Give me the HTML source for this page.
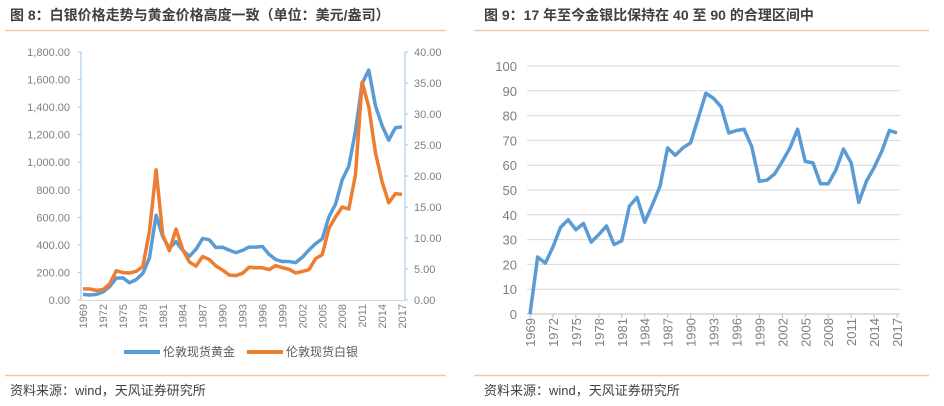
<!DOCTYPE html>
<html><head><meta charset="utf-8">
<style>
body{margin:0;background:#fff;width:944px;height:406px;overflow:hidden;font-family:"Liberation Sans","Noto Sans CJK SC",sans-serif;}
svg{position:absolute;left:0;top:0}
</style></head>
<body>
<svg id="c" width="944" height="406" xmlns="http://www.w3.org/2000/svg">
<text x="10" y="20" font-size="14" font-weight="bold" fill="#404040" font-family="Liberation Sans, Noto Sans CJK SC, sans-serif">图 8：白银价格走势与黄金价格高度一致（单位：美元/盎司）</text>
<text x="484" y="20" font-size="14" font-weight="bold" fill="#404040" font-family="Liberation Sans, Noto Sans CJK SC, sans-serif">图 9：17 年至今金银比保持在 40 至 90 的合理区间中</text>
<line x1="5" y1="30.5" x2="446" y2="30.5" stroke="#f0c8a6" stroke-width="1.5"/>
<line x1="474" y1="30.5" x2="929" y2="30.5" stroke="#f0c8a6" stroke-width="1.5"/>
<line x1="5" y1="375.5" x2="446" y2="375.5" stroke="#f0c8a6" stroke-width="1.5"/>
<line x1="474" y1="375.5" x2="929" y2="375.5" stroke="#f0c8a6" stroke-width="1.5"/>
<text x="10" y="395" font-size="13" fill="#404040">资料来源：wind，天风证券研究所</text>
<text x="484" y="395" font-size="13" fill="#404040">资料来源：wind，天风证券研究所</text>
<g id="L"></g>
<g id="R"></g>
</svg>
<script>
const years=[];for(let y=1969;y<=2017;y++)years.push(y);
const goldPrices=[41,36,41,58,97,159,161,125,148,193,306,615,460,376,424,361,317,368,447,437,381,383,362,344,360,384,384,388,331,294,279,279,271,310,363,409,444,603,695,872,972,1225,1572,1669,1411,1266,1160,1250,1257];
const silverPrices=[1.79,1.77,1.55,1.68,2.56,4.71,4.42,4.35,4.62,5.40,11.09,20.98,10.49,7.95,11.44,8.14,6.14,5.47,7.01,6.53,5.50,4.82,4.04,3.94,4.30,5.29,5.20,5.20,4.90,5.54,5.22,4.95,4.37,4.60,4.88,6.67,7.32,11.55,13.38,15.0,14.67,20.19,35.12,31.15,23.79,19.08,15.68,17.14,17.05];
const ratioValues=[0,23,20.5,27,35,38,34,36.5,29,32,35.5,28,29.5,43.5,47,37,44,51.5,67,64,67,69,79,89,87,83.5,73,74,74.5,67.5,53.5,54,56.5,61.5,67,74.5,61.5,61,52.5,52.5,58,66.5,61,45,53.5,59,65.5,74,73];
const leftTicks=[0,200,400,600,800,1000,1200,1400,1600,1800];
const rightTicks=[0,5,10,15,20,25,30,35,40];
const ratioTicks=[0,10,20,30,40,50,60,70,80,90,100];
const NS='http://www.w3.org/2000/svg';
function mk(p,t,a){const e=document.createElementNS(NS,t);for(const k in a)e.setAttribute(k,a[k]);p.appendChild(e);return e;}
const fmt=v=>v.toLocaleString('en-US',{minimumFractionDigits:2,maximumFractionDigits:2});
const L=document.getElementById('L');
const lx=y=>83+(y-1969)*(402-83)/48;
const ly=v=>300-v*(300-52)/1800;
const ry=v=>300-v*(300-52)/40;
let e=mk(L,'line',{x1:81,y1:52,x2:81,y2:300,stroke:'#9dc3e6','stroke-width':1});

e=mk(L,'line',{x1:405,y1:52,x2:405,y2:300,stroke:'#9dc3e6','stroke-width':1});

e=mk(L,'line',{x1:81,y1:300.5,x2:405,y2:300.5,stroke:'#d9d9d9','stroke-width':1});

leftTicks.forEach(v=>{const t=mk(L,'text',{x:70,y:ly(v)+4,'font-size':11,fill:'#7f7f7f','text-anchor':'end'});t.textContent=fmt(v);

mk(L,'line',{x1:78,y1:ly(v),x2:81,y2:ly(v),stroke:'#9dc3e6'});});
rightTicks.forEach(v=>{const t=mk(L,'text',{x:414,y:ry(v)+4,'font-size':11,fill:'#7f7f7f'});t.textContent=fmt(v);

mk(L,'line',{x1:405,y1:ry(v),x2:408,y2:ry(v),stroke:'#9dc3e6'});});
years.forEach(y=>{if((y-1969)%3)return;const x=lx(y);const t=mk(L,'text',{transform:`translate(${x+4},304) rotate(-90)`,'font-size':11,fill:'#7f7f7f','text-anchor':'end'});t.textContent=y;
});
e=mk(L,'polyline',{points:goldPrices.map((v,i)=>lx(years[i])+','+ly(v)).join(' '),fill:'none',stroke:'#5b9bd5','stroke-width':3.5,'stroke-linejoin':'round'});

e=mk(L,'polyline',{points:silverPrices.map((v,i)=>lx(years[i])+','+ry(v)).join(' '),fill:'none',stroke:'#ed7d31','stroke-width':3.5,'stroke-linejoin':'round'});

e=mk(L,'line',{x1:124,y1:352,x2:160,y2:352,stroke:'#5b9bd5','stroke-width':4});

e=mk(L,'text',{x:163,y:356,'font-size':12,fill:'#595959'});e.textContent='伦敦现货黄金';

e=mk(L,'line',{x1:247,y1:352,x2:283,y2:352,stroke:'#ed7d31','stroke-width':4});

e=mk(L,'text',{x:286,y:356,'font-size':12,fill:'#595959'});e.textContent='伦敦现货白银';

const R=document.getElementById('R');
const rx=y=>530+(y-1969)*(897-530)/48;
const rr=v=>314-v*(314-66)/100;
ratioTicks.forEach(v=>{const g=mk(R,'line',{x1:527,y1:rr(v),x2:900,y2:rr(v),stroke:v?'#d9d9d9':'#bfbfbf','stroke-width':1});

const t=mk(R,'text',{x:517,y:rr(v)+5,'font-size':13,fill:'#7f7f7f','text-anchor':'end'});t.textContent=v;
});
years.forEach(y=>{if((y-1969)%3)return;const x=rx(y);mk(R,'line',{x1:x,y1:314,x2:x,y2:318,stroke:'#bfbfbf'});
const t=mk(R,'text',{transform:`translate(${x+5},318) rotate(-90)`,'font-size':13,fill:'#7f7f7f','text-anchor':'end'});t.textContent=y;
});
e=mk(R,'polyline',{points:ratioValues.map((v,i)=>rx(years[i])+','+rr(v)).join(' '),fill:'none',stroke:'#5b9bd5','stroke-width':3.5,'stroke-linejoin':'round'});

</script>
</body></html>
